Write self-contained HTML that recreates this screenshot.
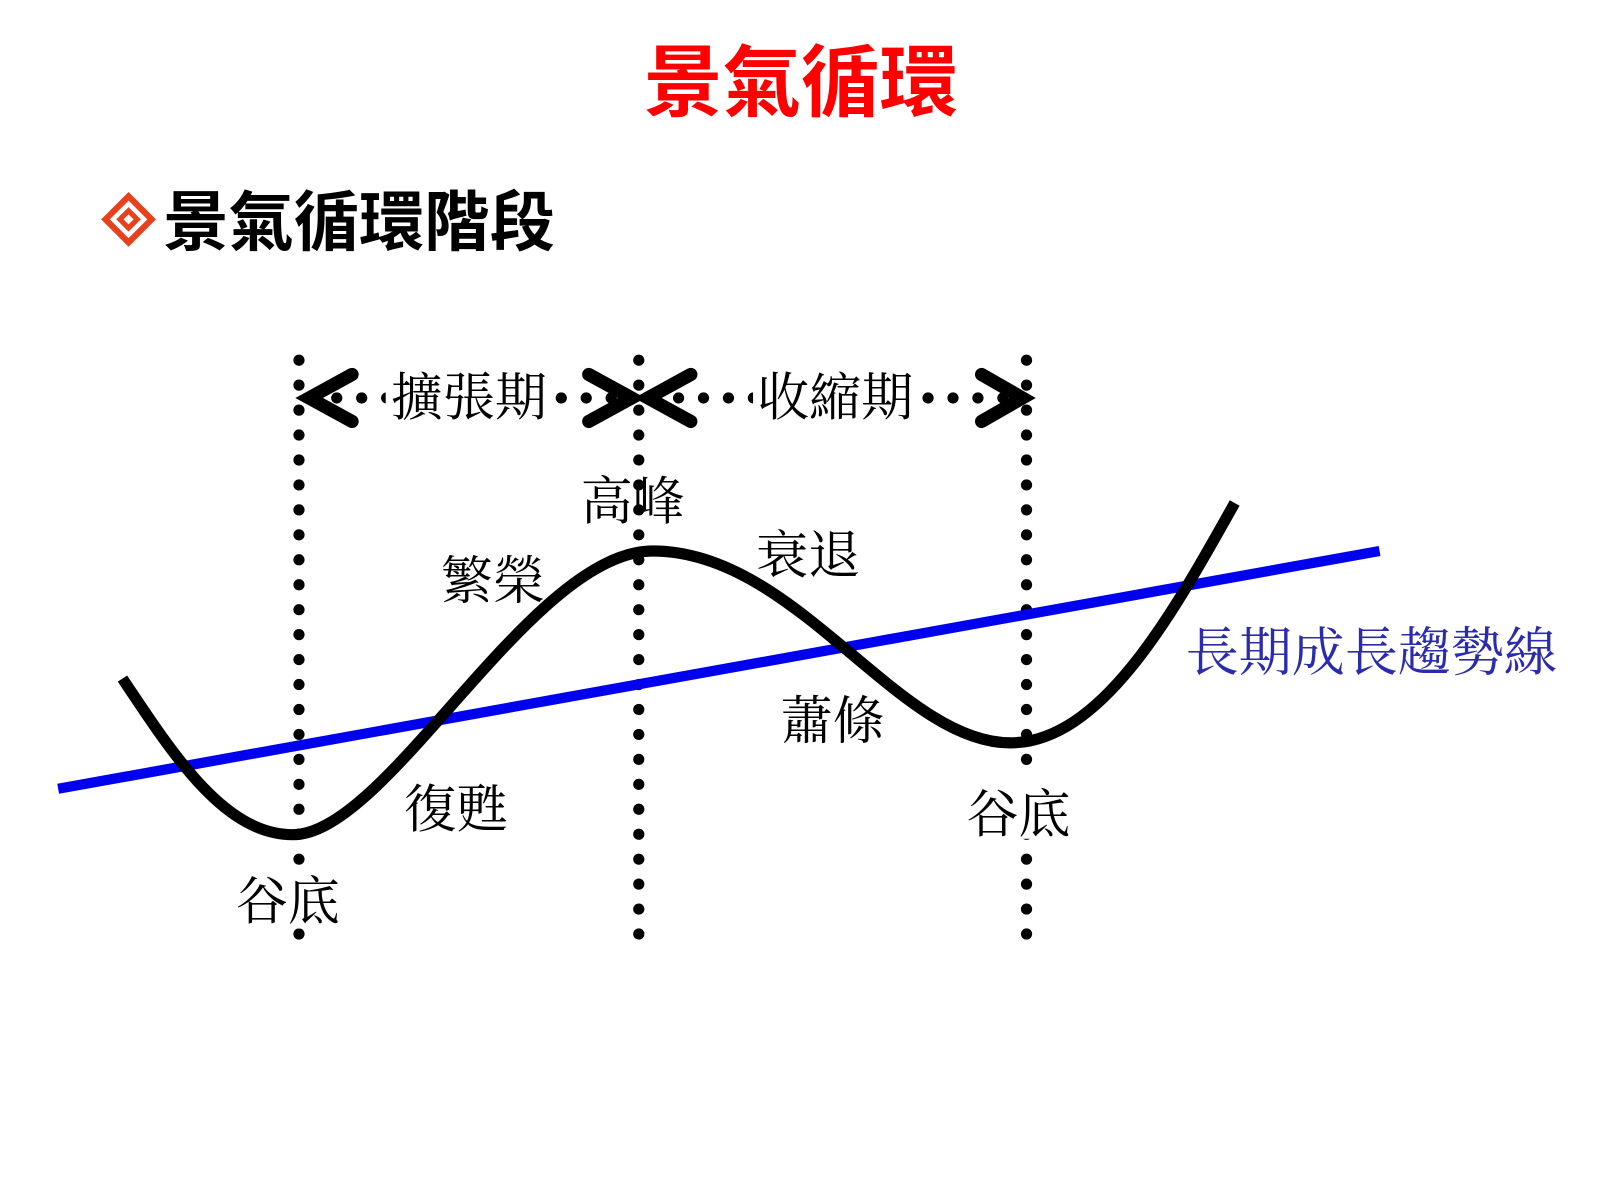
<!DOCTYPE html>
<html><head><meta charset="utf-8"><style>
html,body{margin:0;padding:0;background:#fff;}
svg{display:block}
.s{font-family:"Liberation Serif","Noto Serif CJK SC",serif;font-size:51px;fill:#000}
</style></head><body>
<svg width="1600" height="1200" viewBox="0 0 1600 1200" xmlns="http://www.w3.org/2000/svg">
<g transform="scale(1.0204)">
<text x="785" y="108" text-anchor="middle" font-family="'Liberation Sans','Noto Sans CJK TC',sans-serif" font-weight="bold" font-size="77" fill="#f00">景氣循環</text>
<g transform="translate(126,215) rotate(45)" fill="none" stroke="#e8401c">
<rect x="-16" y="-16" width="32" height="32" stroke-width="6"/>
<rect x="-6" y="-6" width="12" height="12" stroke-width="5"/>
</g>
<text x="160" y="240" font-family="'Liberation Sans','Noto Sans CJK TC',sans-serif" font-weight="bold" font-size="64" fill="#000">景氣循環階段</text>
<g stroke="#000" stroke-width="11" stroke-linecap="round" stroke-dasharray="0 24.45" fill="none">
<line x1="293" y1="353" x2="293" y2="920"/>
<line x1="626" y1="353" x2="626" y2="920"/>
<line x1="1006" y1="353" x2="1006" y2="920"/>
<line x1="330" y1="390" x2="600" y2="390"/>
<line x1="665" y1="390" x2="985" y2="390"/>
</g>
<g stroke="#000" stroke-width="13" stroke-linecap="round" stroke-linejoin="miter" fill="none">
<polyline points="345,367 303,390 345,413"/>
<polyline points="577,367 619,390 577,413"/>
<polyline points="677,367 635,390 677,413"/>
<polyline points="962,367 1002,390 962,413"/>
</g>
<line x1="57" y1="773" x2="1352" y2="540" stroke="#0000ee" stroke-width="10"/>
<path d="M120,665 C170,740 220,818 287,818 C380,818 520,540 640,540 C780,540 880,728 990,728 C1080,728 1150,600 1210,493" fill="none" stroke="#000" stroke-width="11"/>
<rect x="980" y="762" width="50" height="60" fill="#fff"/>
<rect x="270" y="852" width="50" height="58" fill="#fff"/>
<g class="s">
<rect x="378" y="365" width="165" height="50" fill="#fff"/>
<rect x="738" y="365" width="163" height="50" fill="#fff"/>
<text x="383" y="407">擴張期</text>
<text x="742" y="407">收縮期</text>
<text x="569" y="509">高峰</text>
<text x="432" y="587">繁榮</text>
<text x="741" y="562">衰退</text>
<text x="765" y="724">蕭條</text>
<text x="396" y="811">復甦</text>
<text x="231" y="901">谷底</text>
<text x="947" y="816">谷底</text>
</g>
<text x="1162" y="657" font-family="'Liberation Serif','Noto Serif CJK SC',serif" font-size="52" fill="#2b2bb0">長期成長趨勢線</text>
</g>
</svg>
</body></html>
